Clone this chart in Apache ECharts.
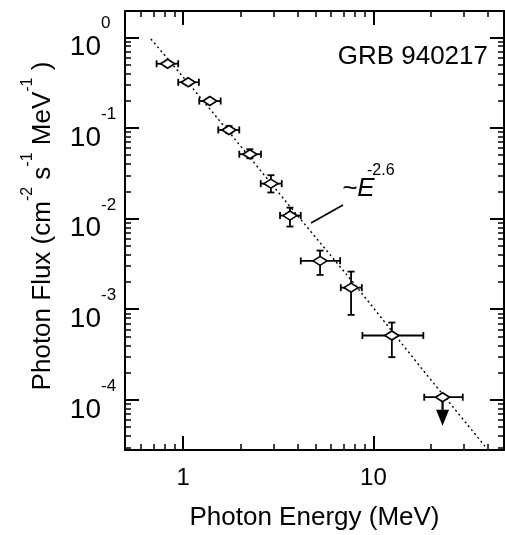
<!DOCTYPE html>
<html><head><meta charset="utf-8">
<script src="https://cdn.jsdelivr.net/npm/echarts@6/dist/echarts.min.js"></script>
<style>html,body{margin:0;padding:0;background:#fff}#c{width:505px;height:535px}</style>
</head><body><div id="c"></div>
<script>
// ---- data ----
const energy   = [0.828, 1.062, 1.38, 1.74, 2.24, 2.89, 3.64, 5.24, 7.63, 12.5, 23.1];
const flux     = [0.511, 0.319, 0.198, 0.095, 0.0513, 0.0243, 0.0108, 0.00342, 0.00173, 5.13e-4, 1.07e-4];
const energyLo = [0.724, 0.941, 1.214, 1.528, 1.971, 2.555, 3.228, 4.149, 6.737, 8.75, 18.5];
const energyHi = [0.941, 1.209, 1.573, 1.971, 2.564, 3.296, 4.149, 6.68, 8.69, 18.3, 29.5];
const fluxLo   = [0.50, 0.313, 0.194, 0.0874, 0.0463, 0.0194, 0.00817, 0.00239, 8.67e-4, 2.96e-4, null];
const fluxHi   = [0.52, 0.325, 0.202, 0.105, 0.0582, 0.0301, 0.0132, 0.00444, 0.0026, 7.13e-4, null];
const upperLimit = [false, false, false, false, false, false, false, false, false, false, true];
const upperLimitArrowTip = 5.2e-5;

const fitEnergy = [0.676, 1.085, 1.761, 3.644, 7.88, 17.6, 38.7];
const fitFlux   = [0.958, 0.297, 0.0874, 0.01356, 0.00194, 2.33e-4, 3.06e-5];

const xMajorTicks = [1, 10];
const xMinorTicks = [0.6, 0.7, 0.8, 0.9, 2, 3, 4, 5, 6, 7, 8, 9, 20, 30, 40];
const yMajorTicks = [1e-4, 1e-3, 1e-2, 1e-1, 1];
const yDecades = [1e-5, 1e-4, 1e-3, 1e-2, 1e-1];
const yMultipliers = [2, 3, 4, 5, 6, 7, 8, 9];
const yMinorTicks = [];
yDecades.forEach(d => yMultipliers.forEach(m => yMinorTicks.push(+(d * m).toPrecision(3))));

const xRange = [0.494, 48.6];
const yRange = [2.8e-5, 1.95];

const FONT = 'Liberation Sans, Arial, sans-serif';
const BLACK = '#000';

function mkX(pos, ticks, len, showLine, labels) {
  return {
    type: 'log', logBase: 10, min: xRange[0], max: xRange[1], position: pos,
    axisLine: { show: showLine, onZero: false, lineStyle: { color: BLACK, width: 2 } },
    axisTick: { show: true, inside: true, length: len, customValues: ticks,
      lineStyle: { color: BLACK, width: len > 8 ? 2 : 1.5 } },
    axisLabel: labels ? { show: true, customValues: ticks, fontSize: 24, fontFamily: FONT,
      color: BLACK, margin: 16, formatter: v => String(Math.round(v)) } : { show: false },
    splitLine: { show: false }, minorTick: { show: false }
  };
}
function mkY(pos, ticks, len, showLine, label) {
  return {
    type: 'log', logBase: 10, min: yRange[0], max: yRange[1], position: pos,
    axisLine: { show: showLine, onZero: false, lineStyle: { color: BLACK, width: 2 } },
    axisTick: { show: true, inside: true, length: len, customValues: ticks,
      lineStyle: { color: BLACK, width: len > 8 ? 2 : 1.5 } },
    axisLabel: label || { show: false },
    splitLine: { show: false }, minorTick: { show: false }
  };
}
// mantissa "10" labels and exponent labels (superscripts) on two stacked left axes
const baseLabel = { show: true, customValues: yMajorTicks, margin: 24, align: 'right',
  formatter: () => '{b|10}',
  rich: { b: { fontSize: 28, fontFamily: FONT, color: BLACK, lineHeight: 30, padding: [20, 0, 0, 0] } } };
const expLabel = { show: true, customValues: yMajorTicks, margin: 24, align: 'left',
  formatter: v => '{e|' + Math.round(Math.log10(v)) + '}',
  rich: { e: { fontSize: 17, fontFamily: FONT, color: BLACK, lineHeight: 18, padding: [0, 0, 27, 0] } } };

function renderPoint(params, api) {
  const i = params.dataIndex;
  const c = api.coord([energy[i], flux[i]]);
  const xl = api.coord([energyLo[i], flux[i]])[0];
  const xh = api.coord([energyHi[i], flux[i]])[0];
  const st = { stroke: BLACK, lineWidth: 1.8 };
  const kids = [];
  const cap = 3.5;
  kids.push({ type: 'line', shape: { x1: xl, y1: c[1], x2: xh, y2: c[1] }, style: st });
  kids.push({ type: 'line', shape: { x1: xl, y1: c[1] - cap, x2: xl, y2: c[1] + cap }, style: st });
  kids.push({ type: 'line', shape: { x1: xh, y1: c[1] - cap, x2: xh, y2: c[1] + cap }, style: st });
  if (fluxLo[i] != null) {
    const yl = api.coord([energy[i], fluxLo[i]])[1];
    const yh = api.coord([energy[i], fluxHi[i]])[1];
    kids.push({ type: 'line', shape: { x1: c[0], y1: yl, x2: c[0], y2: yh }, style: st });
    kids.push({ type: 'line', shape: { x1: c[0] - cap, y1: yl, x2: c[0] + cap, y2: yl }, style: st });
    kids.push({ type: 'line', shape: { x1: c[0] - cap, y1: yh, x2: c[0] + cap, y2: yh }, style: st });
  }
  if (upperLimit[i]) {
    const tip = api.coord([energy[i], upperLimitArrowTip])[1];
    kids.push({ type: 'line', shape: { x1: c[0], y1: c[1], x2: c[0], y2: tip - 14 }, style: { stroke: BLACK, lineWidth: 2.2 } });
    kids.push({ type: 'polygon', shape: { points: [[c[0] - 6.5, tip - 16], [c[0] + 6.5, tip - 16], [c[0], tip]] },
      style: { fill: BLACK } });
  }
  kids.push({ type: 'polygon', shape: { points: [[c[0] - 7, c[1]], [c[0], c[1] - 4.5], [c[0] + 7, c[1]], [c[0], c[1] + 4.5]] },
    style: { fill: '#fff', stroke: BLACK, lineWidth: 1.6 } });
  return { type: 'group', children: kids };
}

const chart = echarts.init(document.getElementById('c'), null, { renderer: 'canvas' });
chart.setOption({
  animation: false,
  backgroundColor: '#fff',
  grid: { left: 125, right: 1, top: 11, bottom: 85, containLabel: false },
  xAxis: [
    mkX('bottom', xMajorTicks, 14, true, true),
    mkX('bottom', xMinorTicks, 6, false, false),
    mkX('top', xMajorTicks, 14, true, false),
    mkX('top', xMinorTicks, 6, false, false)
  ],
  yAxis: [
    mkY('left', yMajorTicks, 14, true, baseLabel),
    mkY('left', yMinorTicks, 6, false, expLabel),
    mkY('right', yMajorTicks, 14, true, null),
    mkY('right', yMinorTicks, 6, false, null)
  ],
  series: [
    { type: 'line', xAxisIndex: 0, yAxisIndex: 0, silent: true, symbol: 'none', z: 1,
      data: fitEnergy.map((e, i) => [e, fitFlux[i]]),
      lineStyle: { color: BLACK, width: 1.4, type: [2, 3] } },
    { type: 'custom', xAxisIndex: 0, yAxisIndex: 0, silent: true, z: 3,
      data: energy.map((e, i) => [e, flux[i]]), renderItem: renderPoint }
  ],
  graphic: [
    { type: 'text', x: 488, y: 57, style: { text: 'GRB 940217', align: 'right', verticalAlign: 'middle',
      fontSize: 26, fontFamily: FONT, fill: BLACK } },
    { type: 'text', x: 314.5, y: 518, style: { text: 'Photon Energy (MeV)', align: 'center', verticalAlign: 'middle',
      fontSize: 26, fontFamily: FONT, fill: BLACK } },
    { type: 'text', x: 42, y: 226, rotation: Math.PI / 2,
      style: { text: '{m|Photon Flux (cm}{e|-2}{m| s}{e|-1}{m| MeV}{e|-1}{m| )}', align: 'center', verticalAlign: 'middle',
        fill: BLACK, rich: {
          m: { fontSize: 26, fontFamily: FONT, fill: BLACK, verticalAlign: 'bottom', lineHeight: 28 },
          e: { fontSize: 16, fontFamily: FONT, fill: BLACK, verticalAlign: 'bottom', lineHeight: 18, padding: [0, 0, 20, 0] }
        } } },
    { type: 'line', shape: { x1: 311, y1: 223, x2: 343, y2: 205 }, style: { stroke: BLACK, lineWidth: 1.6 } },
    { type: 'text', x: 342, y: 189, style: { text: '~E', align: 'left', verticalAlign: 'middle',
      fontSize: 26, fontStyle: 'italic', fontFamily: FONT, fill: BLACK } },
    { type: 'text', x: 367, y: 171, style: { text: '-2.6', align: 'left', verticalAlign: 'middle',
      fontSize: 16, fontFamily: FONT, fill: BLACK } }
  ]
});
</script></body></html>
